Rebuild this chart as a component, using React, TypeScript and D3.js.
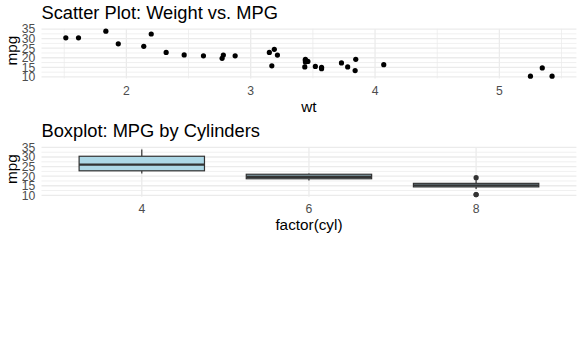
import React from "react";
import * as d3 from "d3";

// mtcars: weight (1000 lbs), miles per gallon, cylinders
const wt = [2.62, 2.875, 2.32, 3.215, 3.44, 3.46, 3.57, 3.19, 3.15, 3.44, 3.44, 4.07, 3.73, 3.78, 5.25, 5.424, 5.345, 2.2, 1.615, 1.835, 2.465, 3.52, 3.435, 3.84, 3.845, 1.935, 2.14, 1.513, 3.17, 2.77, 3.57, 2.78];
const mpg = [21.0, 21.0, 22.8, 21.4, 18.7, 18.1, 14.3, 24.4, 22.8, 19.2, 17.8, 16.4, 17.3, 15.2, 10.4, 10.4, 14.7, 32.4, 30.4, 33.9, 21.5, 15.5, 15.2, 13.3, 19.2, 27.3, 26.0, 30.4, 15.8, 19.7, 15.0, 21.4];
const cyl = [6, 6, 4, 6, 8, 6, 8, 4, 4, 6, 6, 8, 8, 8, 8, 8, 8, 4, 4, 4, 4, 8, 8, 8, 8, 4, 4, 4, 8, 6, 8, 4];

const cylLevels = ["4", "6", "8"];
const xTicks = [2, 3, 4, 5];
const xMinor = [1.5, 2.5, 3.5, 4.5, 5.5];
const yTicks = [10, 15, 20, 25, 30, 35];
const yMinor = [12.5, 17.5, 22.5, 27.5, 32.5];

const W = 581;
const H = 355;
const FONT = "'Liberation Sans', Arial, sans-serif";
const PL = 41.5;
const PR = 576.4;
const ROW = 118.4;
const PT = 28.9;
const PB = 78.4;
const TITLE = 18.3;
const AXT = 12.2;
const AXTITLE = 15.3;

function expand(ext: [number, number]): [number, number] {
  const r = ext[1] - ext[0];
  return [ext[0] - 0.05 * r, ext[1] + 0.05 * r];
}

const yDomain = expand(d3.extent(mpg) as [number, number]);

export default function App() {
  const x1 = d3.scaleLinear().domain(expand(d3.extent(wt) as [number, number])).range([PL, PR]);
  const y1 = d3.scaleLinear().domain(yDomain).range([PB, PT]);
  const y2 = d3.scaleLinear().domain(yDomain).range([PB + ROW, PT + ROW]);
  // discrete ggplot scale: centers at 1..n with 0.6 expansion
  const xc = d3.scaleLinear().domain([0.4, cylLevels.length + 0.6]).range([PL, PR]);

  const major = "#EBEBEB";
  const tickCol = "#4D4D4D";

  const yAxis = (ys: any) => (
    <g>
      {yTicks.map((t) => (
        <text key={t} x={PL - 6.2} y={ys(t)} dy="0.36em" textAnchor="end" fontSize={AXT} fill={tickCol} fontFamily={FONT}>
          {t}
        </text>
      ))}
    </g>
  );

  const hGrid = (ys: any) => (
    <g>
      {yMinor.map((t) => (
        <line key={"m" + t} x1={PL} x2={PR} y1={ys(t)} y2={ys(t)} stroke={major} strokeWidth={0.75} />
      ))}
      {yTicks.map((t) => (
        <line key={"M" + t} x1={PL} x2={PR} y1={ys(t)} y2={ys(t)} stroke={major} strokeWidth={1.3} />
      ))}
    </g>
  );

  const stats = cylLevels.map((lv) => {
    const v = mpg.filter((_, i) => String(cyl[i]) === lv).sort(d3.ascending);
    const q1 = d3.quantile(v, 0.25)!;
    const med = d3.quantile(v, 0.5)!;
    const q3 = d3.quantile(v, 0.75)!;
    const iqr = q3 - q1;
    const inside = v.filter((d) => d >= q1 - 1.5 * iqr && d <= q3 + 1.5 * iqr);
    const out = v.filter((d) => d < q1 - 1.5 * iqr || d > q3 + 1.5 * iqr);
    return { lv, q1, med, q3, lo: d3.min(inside)!, hi: d3.max(inside)!, out };
  });
  const bw = xc(1.75) - xc(1);
  const titleY = (PT + PB) / 2 - 3;

  return (
    <svg width={W} height={H} style={{ display: "block", position: "absolute", left: 0, top: 0 }}>
      <rect width={W} height={H} fill="#fff" />
      {/* Scatter */}
      <text x={PL} y={18.6} fontSize={TITLE} fill="#000" fontFamily={FONT}>Scatter Plot: Weight vs. MPG</text>
      {hGrid(y1)}
      {xMinor.map((t) => (
        <line key={"xm" + t} x1={x1(t)} x2={x1(t)} y1={PT} y2={PB} stroke={major} strokeWidth={0.75} />
      ))}
      {xTicks.map((t) => (
        <line key={"xM" + t} x1={x1(t)} x2={x1(t)} y1={PT} y2={PB} stroke={major} strokeWidth={1.3} />
      ))}
      {yAxis(y1)}
      {xTicks.map((t) => (
        <text key={"xl" + t} x={x1(t)} y={PB + 16.6} textAnchor="middle" fontSize={AXT} fill={tickCol} fontFamily={FONT}>
          {t}
        </text>
      ))}
      {wt.map((w, i) => (
        <circle key={i} cx={x1(w)} cy={y1(mpg[i])} r={2.6} fill="#000" />
      ))}
      <text x={(PL + PR) / 2} y={112} textAnchor="middle" fontSize={AXTITLE} fill="#000" fontFamily={FONT}>wt</text>
      <text transform={`translate(16.5,${titleY}) rotate(-90)`} textAnchor="middle" fontSize={AXTITLE} fill="#000" fontFamily={FONT}>mpg</text>

      {/* Boxplot */}
      <text x={PL} y={18.6 + ROW} fontSize={TITLE} fill="#000" fontFamily={FONT}>Boxplot: MPG by Cylinders</text>
      {hGrid(y2)}
      {cylLevels.map((lv, i) => (
        <line key={"bx" + lv} x1={xc(i + 1)} x2={xc(i + 1)} y1={PT + ROW} y2={PB + ROW} stroke={major} strokeWidth={1.3} />
      ))}
      {yAxis(y2)}
      {cylLevels.map((lv, i) => (
        <text key={"bl" + lv} x={xc(i + 1)} y={PB + ROW + 16.6} textAnchor="middle" fontSize={AXT} fill={tickCol} fontFamily={FONT}>
          {lv}
        </text>
      ))}
      {stats.map((s, i) => {
        const cx = xc(i + 1);
        return (
          <g key={"box" + s.lv}>
            <line x1={cx} x2={cx} y1={y2(s.hi)} y2={y2(s.q3)} stroke="#333333" strokeWidth={1.2} />
            <line x1={cx} x2={cx} y1={y2(s.q1)} y2={y2(s.lo)} stroke="#333333" strokeWidth={1.2} />
            <rect x={cx - bw / 2} y={y2(s.q3)} width={bw} height={y2(s.q1) - y2(s.q3)} fill="lightblue" stroke="#333333" strokeWidth={1.2} />
            <line x1={cx - bw / 2} x2={cx + bw / 2} y1={y2(s.med)} y2={y2(s.med)} stroke="#333333" strokeWidth={2.3} />
            {s.out.map((o, j) => (
              <circle key={j} cx={cx} cy={y2(o)} r={2.6} fill="#333333" />
            ))}
          </g>
        );
      })}
      <text x={(PL + PR) / 2} y={112 + ROW} textAnchor="middle" fontSize={AXTITLE} fill="#000" fontFamily={FONT}>factor(cyl)</text>
      <text transform={`translate(16.5,${titleY + ROW}) rotate(-90)`} textAnchor="middle" fontSize={AXTITLE} fill="#000" fontFamily={FONT}>mpg</text>
    </svg>
  );
}
